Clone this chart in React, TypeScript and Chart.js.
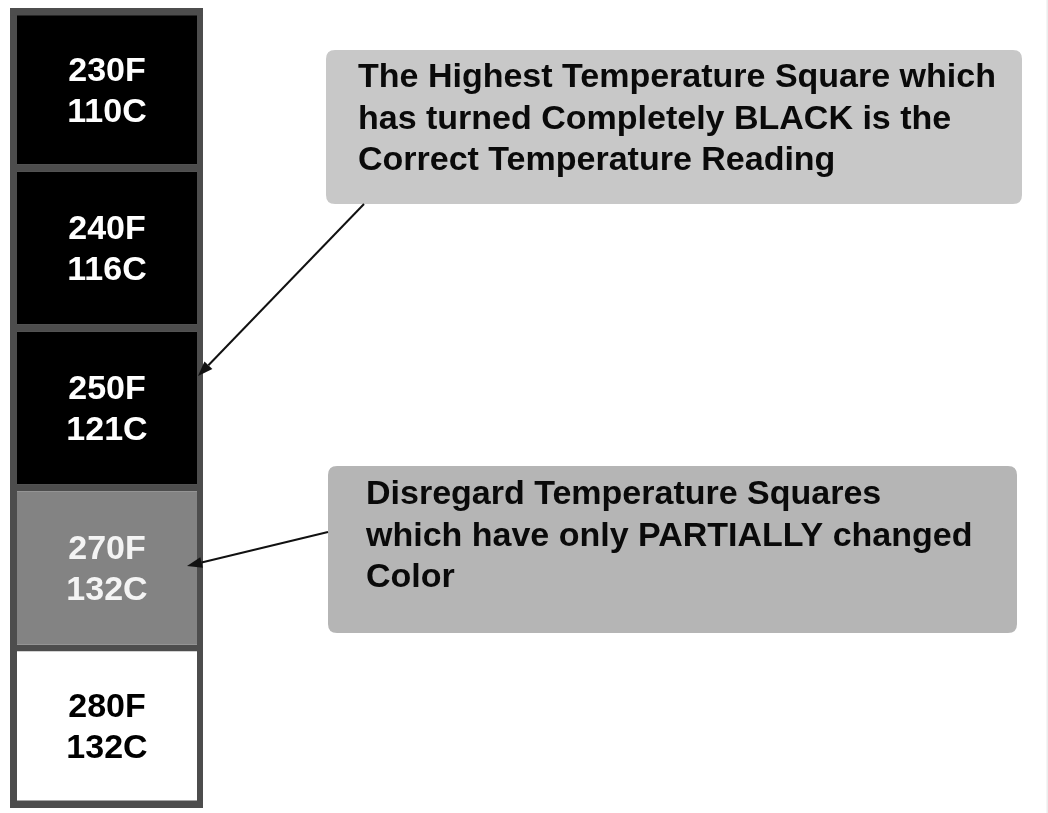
import React, { useEffect, useRef } from 'react';
import { Chart, registerables } from 'chart.js';

Chart.register(...registerables);

// ---- data ----
const fahrenheit = ['230F', '240F', '250F', '270F', '280F'];
const celsius = ['110C', '116C', '121C', '132C', '132C'];
const cellSpan = [1, 1, 1, 1, 1];
const cellColors = ['#000000', '#000000', '#000000', '#838383', '#ffffff'];
const labelColors = ['#ffffff', '#ffffff', '#ffffff', '#f4f4f4', '#000000'];

const noteBlack = [
  'The Highest Temperature Square which',
  'has turned Completely BLACK is the',
  'Correct Temperature Reading',
];
const notePartial = [
  'Disregard Temperature Squares',
  'which have only PARTIALLY changed',
  'Color',
];

const FONT = 'bold 34px "Liberation Sans"';
const FRAME = '#4d4d4d';

function roundRect(ctx: CanvasRenderingContext2D, x: number, y: number, w: number, h: number, r: number) {
  ctx.beginPath();
  ctx.moveTo(x + r, y);
  ctx.lineTo(x + w - r, y);
  ctx.quadraticCurveTo(x + w, y, x + w, y + r);
  ctx.lineTo(x + w, y + h - r);
  ctx.quadraticCurveTo(x + w, y + h, x + w - r, y + h);
  ctx.lineTo(x + r, y + h);
  ctx.quadraticCurveTo(x, y + h, x, y + h - r);
  ctx.lineTo(x, y + r);
  ctx.quadraticCurveTo(x, y, x + r, y);
  ctx.closePath();
}

function arrow(ctx: CanvasRenderingContext2D, x1: number, y1: number, x2: number, y2: number) {
  const ang = Math.atan2(y2 - y1, x2 - x1);
  const len = 15;
  const half = 5.5;
  const bx = x2 - len * Math.cos(ang);
  const by = y2 - len * Math.sin(ang);
  ctx.save();
  ctx.strokeStyle = '#111111';
  ctx.fillStyle = '#111111';
  ctx.lineWidth = 2;
  ctx.beginPath();
  ctx.moveTo(x1, y1);
  ctx.lineTo(bx, by);
  ctx.stroke();
  ctx.beginPath();
  ctx.moveTo(x2, y2);
  ctx.lineTo(bx + half * Math.sin(ang), by - half * Math.cos(ang));
  ctx.lineTo(bx - half * Math.sin(ang), by + half * Math.cos(ang));
  ctx.closePath();
  ctx.fill();
  ctx.restore();
}

const diagramPlugin = {
  id: 'diagramPlugin',
  afterDatasetsDraw(chart: any) {
    const ctx: CanvasRenderingContext2D = chart.ctx;
    const area = chart.chartArea;
    ctx.save();
    // extra outer frame on top and bottom edges
    ctx.fillStyle = FRAME;
    ctx.fillRect(area.left, area.top, area.right - area.left, 7.5);
    ctx.fillRect(area.left, area.bottom - 7.5, area.right - area.left, 7.5);

    // cell labels
    const meta = chart.getDatasetMeta(0);
    const n = meta.data.length;
    ctx.font = FONT;
    ctx.textAlign = 'center';
    ctx.textBaseline = 'middle';
    meta.data.forEach((el: any, i: number) => {
      const cx = (el.x + el.base) / 2 + 0.5;
      let cy = el.y + 2;
      if (i === 0) cy += 2;
      if (i === n - 1) cy -= 2;
      ctx.fillStyle = labelColors[i];
      ctx.fillText(fahrenheit[i], cx, cy - 20.75);
      ctx.fillText(celsius[i], cx, cy + 20.75);
    });

    // callout boxes
    const boxes = [
      { x: 326, y: 50, w: 696, h: 154, fill: '#c8c8c8', tx: 358, ty: 78, lines: noteBlack },
      { x: 328, y: 466, w: 689, h: 167, fill: '#b5b5b5', tx: 366, ty: 495, lines: notePartial },
    ];
    boxes.forEach((b) => {
      roundRect(ctx, b.x, b.y, b.w, b.h, 9);
      ctx.fillStyle = b.fill;
      ctx.fill();
      ctx.fillStyle = '#0a0a0a';
      ctx.textAlign = 'left';
      ctx.textBaseline = 'middle';
      ctx.font = FONT;
      b.lines.forEach((t, k) => ctx.fillText(t, b.tx, b.ty + k * 41.5));
    });

    // arrows
    const xEdge = chart.scales.x.getPixelForValue(1);
    arrow(ctx, 364, 204, xEdge - 5, 376);
    arrow(ctx, 328, 532, xEdge - 16, 566);

    // faint right page edge
    ctx.fillStyle = '#ececec';
    ctx.fillRect(1046.5, 0, 1.5, 813);
    ctx.restore();
  },
};

export default function App() {
  const ref = useRef<HTMLCanvasElement | null>(null);

  useEffect(() => {
    let chart: Chart | null = null;
    let cancelled = false;
    const build = () => {
      if (cancelled || !ref.current) return;
      chart = new Chart(ref.current, {
        type: 'bar',
        data: {
          labels: fahrenheit,
          datasets: [
            {
              data: cellSpan,
              backgroundColor: cellColors,
              borderColor: FRAME,
              borderWidth: { top: 3.5, bottom: 3.5, left: 7, right: 6 } as any,
              borderSkipped: false,
              barPercentage: 1,
              categoryPercentage: 1,
              inflateAmount: 0,
            } as any,
          ],
        },
        options: {
          indexAxis: 'y',
          animation: false,
          responsive: false,
          devicePixelRatio: 1,
          layout: { padding: { left: 10, right: 845, top: 8, bottom: 5 } },
          plugins: {
            legend: { display: false },
            tooltip: { enabled: false },
            title: { display: false },
          },
          events: [],
          scales: {
            x: { type: 'linear', display: false, min: 0, max: 1 },
            y: { type: 'category', display: false, offset: true },
          },
        },
        plugins: [diagramPlugin],
      });
    };
    const fonts: any = (document as any).fonts;
    if (fonts && fonts.load) {
      fonts.load(FONT).then(build, build);
    } else {
      build();
    }
    return () => {
      cancelled = true;
      if (chart) chart.destroy();
    };
  }, []);

  return (
    <div style={{ position: 'fixed', left: 0, top: 0, width: 1048, height: 813, background: '#ffffff' }}>
      <canvas ref={ref} width={1048} height={813} style={{ width: 1048, height: 813, display: 'block' }} />
    </div>
  );
}
